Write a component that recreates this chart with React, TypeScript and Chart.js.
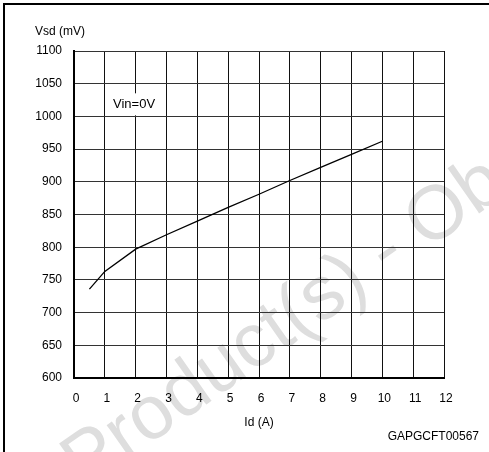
import React, { useEffect, useRef } from "react";
import { Chart, registerables } from "chart.js";

Chart.register(...registerables);

const currentA = [0.5, 1, 2, 3, 4, 5, 6, 7, 8, 9, 10];
const vsdMv = [736, 763, 797, 819, 840, 861, 881, 902, 922, 942, 962];
const xTicks = [0, 1, 2, 3, 4, 5, 6, 7, 8, 9, 10, 11, 12];
const yTicks = [600, 650, 700, 750, 800, 850, 900, 950, 1000, 1050, 1100];
const yTitle = "Vsd (mV)";
const xTitle = "Id (A)";
const noteText = "Vin=0V";
const codeText = "GAPGCFT00567";
const watermarkText = "Product(s) - Obsolete";

const FONT = "'Liberation Sans', Arial, sans-serif";

const decorPlugin = {
  id: "decor",
  beforeDraw(chart: any) {
    const ctx = chart.ctx;
    ctx.save();
    ctx.fillStyle = "#ffffff";
    ctx.fillRect(0, 0, chart.width, chart.height);
    // watermark (behind grid)
    ctx.save();
    ctx.translate(84, 490);
    ctx.rotate(-35 * Math.PI / 180);
    ctx.font = `76px ${FONT}`;
    ctx.fillStyle = "#dedede";
    ctx.textAlign = "left";
    ctx.textBaseline = "alphabetic";
    ctx.fillText(watermarkText, 0, 0);
    ctx.restore();
    ctx.strokeStyle = "#000";
    ctx.lineWidth = 2;
    ctx.beginPath();
    ctx.moveTo(4, chart.height + 2);
    ctx.lineTo(4, 4);
    ctx.lineTo(chart.width + 2, 4);
    ctx.stroke();
    ctx.restore();
  },
  afterDatasetsDraw(chart: any) {
    const ctx = chart.ctx;
    const xs = chart.scales.x;
    const ys = chart.scales.y;
    ctx.save();
    ctx.font = `12px ${FONT}`;
    ctx.fillStyle = "#000";
    ctx.textBaseline = "middle";
    ctx.textAlign = "left";
    ctx.fillText(yTitle, 35, 32);
    ctx.textAlign = "center";
    ctx.fillText(xTitle, (xs.left + xs.right) / 2, 423);
    ctx.textAlign = "right";
    ctx.fillText(codeText, 479, 437);
    // note box
    ctx.font = `13px ${FONT}`;
    const w = ctx.measureText(noteText).width;
    const nx = 113;
    const ny = ys.getPixelForValue(1020);
    ctx.fillStyle = "#fff";
    ctx.fillRect(nx - 5, ny - 10, w + 8, 22);
    ctx.fillStyle = "#000";
    ctx.textAlign = "left";
    ctx.fillText(noteText, nx, ny + 1);
    ctx.restore();
  },
};

export default function App() {
  const ref = useRef<HTMLCanvasElement>(null);
  useEffect(() => {
    if (!ref.current) return;
    const chart = new Chart(ref.current, {
      type: "line",
      data: {
        datasets: [
          {
            data: currentA.map((x, i) => ({ x, y: vsdMv[i] })),
            borderColor: "#000",
            borderWidth: 1.3,
            pointRadius: 0,
            fill: false,
            tension: 0,
          },
        ],
      },
      options: {
        animation: false,
        responsive: false,
        maintainAspectRatio: false,
        layout: { padding: { left: 0, top: 51, right: 45, bottom: 0 } },
        plugins: { legend: { display: false }, tooltip: { enabled: false } },
        scales: {
          x: {
            type: "linear",
            min: 0,
            max: 12,
            afterFit: (s: any) => { s.height = 74; },
            afterBuildTicks: (s: any) => { s.ticks = xTicks.map((v) => ({ value: v })); },
            ticks: {
              color: "#000",
              font: { family: FONT, size: 12 },
              padding: 13,
              labelOffset: 2,
              maxRotation: 0,
              autoSkip: false,
              callback: (v: any) => String(v),
            },
            grid: { color: "#111", lineWidth: 1, drawTicks: false },
            border: { color: "#000", width: 2 },
          },
          y: {
            type: "linear",
            min: 600,
            max: 1100,
            afterFit: (s: any) => { s.width = 74; },
            afterBuildTicks: (s: any) => { s.ticks = yTicks.map((v) => ({ value: v })); },
            ticks: {
              color: "#000",
              font: { family: FONT, size: 12 },
              padding: 12,
              autoSkip: false,
              callback: (v: any) => String(v),
            },
            grid: { color: "#333", lineWidth: 1, drawTicks: false },
            border: { color: "#000", width: 2 },
          },
        },
      },
      plugins: [decorPlugin],
    });
    return () => chart.destroy();
  }, []);
  return (
    <div style={{ position: "fixed", left: 0, top: 0, width: 489, height: 452 }}>
      <canvas ref={ref} width={489} height={452} style={{ width: 489, height: 452, display: "block" }} />
    </div>
  );
}
